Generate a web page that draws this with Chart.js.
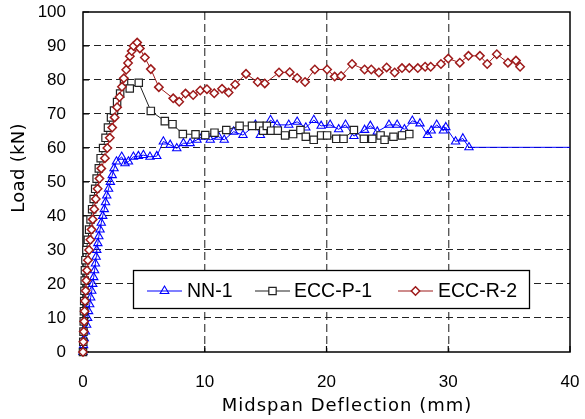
<!DOCTYPE html>
<html><head><meta charset="utf-8">
<script src="https://cdn.jsdelivr.net/npm/chart.js@4/dist/chart.umd.min.js"></script>
<style>html,body{margin:0;padding:0;background:#fff;}#wrap{width:585px;height:419px;}</style>
</head><body><div id="wrap"><canvas id="c" width="585" height="419"></canvas></div>
<script>
// ---- data ----
const seriesNames = ['NN-1', 'ECC-P-1', 'ECC-R-2'];
const xTickValues = [0, 10, 20, 30, 40];
const yTickValues = [0, 10, 20, 30, 40, 50, 60, 70, 80, 90, 100];
const xTitleText = 'Midspan Deflection (mm)';
const yTitleText = 'Load (kN)';

const nnX = [0, 0.05, 0.1, 0.2, 0.3, 0.38, 0.46, 0.55, 0.63, 0.72, 0.8, 0.88, 0.95, 1.02, 1.08, 1.13, 1.22, 1.3, 1.4, 1.5, 1.62, 1.75, 1.85, 1.95, 2.1, 2.25, 2.4, 2.55, 2.75, 3.18, 3.45, 3.73, 4.14, 4.55, 4.96, 5.5, 6.06, 6.6, 7.16, 7.7, 8.25, 8.8, 9.36, 9.77, 10.45, 11.14, 11.6, 12.37, 13.14, 14.16, 14.57, 15.4, 15.94, 16.9, 17.59, 18.3, 18.96, 19.56, 20.3, 21.0, 21.56, 22.25, 23.13, 23.6, 24.17, 25.13, 25.8, 26.4, 27.05, 27.68, 28.3, 28.6, 29.05, 29.6, 29.8, 30.6, 31.2, 31.7, 40];
const nnY = [0, 2, 4, 6, 8, 10, 12, 14, 16, 18, 20, 22, 24, 26, 28, 30, 32, 34, 36, 38, 40, 42, 44, 46, 48, 50, 52, 54, 56, 57.4, 55.5, 56, 57.4, 57.6, 57.9, 57.4, 57.6, 61.9, 60.9, 59.9, 61.4, 61.4, 62.4, 63.3, 62.4, 63.3, 62.4, 64.8, 63.8, 66.8, 63.8, 68.2, 66.8, 66.8, 67.7, 66, 68.2, 66.5, 66.8, 65.5, 66.8, 63.5, 65.3, 66.5, 64.8, 66.8, 66.8, 65.5, 68, 67.2, 63.8, 65.1, 66.8, 65.1, 66.1, 61.9, 62.8, 60.2, 60.2];

const eccPX = [0, 0.02, 0.04, 0.06, 0.08, 0.1, 0.12, 0.14, 0.16, 0.2, 0.28, 0.4, 0.5, 0.62, 0.75, 0.88, 1.0, 1.12, 1.3, 1.45, 1.65, 1.85, 2.05, 2.3, 2.55, 2.8, 3.05, 3.37, 3.84, 4.58, 5.57, 6.72, 7.35, 8.2, 9.24, 10.04, 10.8, 11.77, 12.86, 13.88, 14.5, 14.8, 15.1, 15.45, 16.0, 16.6, 17.26, 17.86, 18.3, 18.95, 19.56, 20.05, 20.8, 21.4, 22.25, 23.07, 23.76, 24.44, 24.77, 25.5, 26.2, 26.8];
const eccPY = [0, 3, 6, 9, 12, 15, 18, 21, 24, 27, 30, 33, 36, 39, 42, 45, 48, 51, 54, 57, 60, 63, 66, 69, 71, 73.5, 76, 79.5, 77.5, 79.2, 70.9, 67.9, 67, 64.1, 64, 63.8, 64.5, 65.3, 66.5, 66.5, 66.5, 65.1, 66.5, 65.1, 65.1, 63.7, 64.1, 65.3, 63.3, 62.4, 63.7, 63.7, 62.7, 62.7, 65.3, 62.7, 62.7, 63.7, 62.4, 63.3, 63.7, 64.1];

const eccRX = [0, 0.03, 0.06, 0.1, 0.13, 0.17, 0.22, 0.27, 0.33, 0.4, 0.5, 0.6, 0.7, 0.8, 0.92, 1.05, 1.2, 1.35, 1.5, 1.8, 2.0, 2.2, 2.4, 2.6, 2.8, 3.0, 3.2, 3.35, 3.55, 3.7, 3.85, 4.0, 4.15, 4.45, 4.67, 5.08, 5.57, 6.23, 7.41, 7.9, 8.42, 9.05, 9.63, 10.18, 10.78, 11.42, 11.96, 12.5, 13.39, 14.35, 14.93, 16.1, 16.98, 17.59, 18.24, 19.04, 20.05, 20.67, 21.2, 22.1, 23.13, 23.68, 24.3, 24.94, 25.6, 26.2, 26.8, 27.5, 28.1, 28.56, 29.4, 30.0, 30.95, 31.66, 32.6, 33.2, 33.99, 34.9, 35.56, 35.9];
const eccRY = [0, 3, 6, 9, 12, 15, 18, 21, 24, 27, 30, 33, 36, 39, 42, 45, 48, 51, 54, 57, 60, 63, 66, 69, 72, 75, 78, 80.5, 83, 85, 87, 88.5, 90, 91, 89.3, 86.6, 83.2, 77.9, 74.6, 73.6, 76, 75.6, 76.9, 77.3, 76.1, 77.4, 76.3, 78.7, 81.8, 79.4, 79, 82.2, 82.3, 80.6, 79.4, 83.1, 83.1, 81, 81.2, 84.7, 83.1, 83.1, 82.2, 83.7, 82.2, 83.5, 83.5, 83.5, 83.9, 83.9, 84.7, 86.3, 85.1, 87.1, 87.1, 84.7, 87.6, 85.1, 85.7, 83.9];

const pts = (xs, ys) => xs.map((x, i) => ({ x: x, y: ys[i] }));

// ---- plugins ----
const framePlugin = {
  id: 'frame',
  beforeDatasetsDraw(chart) {
    const { ctx, chartArea: a, scales: { x, y } } = chart;
    ctx.save();
    ctx.strokeStyle = '#000';
    ctx.lineWidth = 1.5;
    ctx.strokeRect(a.left, a.top, a.right - a.left, a.bottom - a.top);
    ctx.lineWidth = 1.2;
    ctx.beginPath();
    xTickValues.forEach(v => {
      const px = x.getPixelForValue(v);
      ctx.moveTo(px, a.bottom); ctx.lineTo(px, a.bottom - 6);
    });
    yTickValues.forEach(v => {
      const py = y.getPixelForValue(v);
      ctx.moveTo(a.left, py); ctx.lineTo(a.left + 6, py);
    });
    ctx.stroke();
    ctx.restore();
  }
};

function drawMarker(ctx, ds, cx, cy) {
  ctx.save();
  ctx.lineWidth = ds.pointBorderWidth;
  ctx.strokeStyle = ds.pointBorderColor;
  ctx.fillStyle = ds.pointBackgroundColor;
  const r = ds.legendRadius;
  ctx.beginPath();
  if (ds.pointStyle === 'triangle') {
    ctx.moveTo(cx, cy - r);
    ctx.lineTo(cx + r * 0.866, cy + r * 0.5);
    ctx.lineTo(cx - r * 0.866, cy + r * 0.5);
    ctx.closePath();
  } else if (ds.pointStyle === 'rect') {
    const s = r * Math.SQRT1_2;
    ctx.rect(cx - s, cy - s, 2 * s, 2 * s);
  } else {
    ctx.moveTo(cx, cy - r); ctx.lineTo(cx + r, cy); ctx.lineTo(cx, cy + r); ctx.lineTo(cx - r, cy);
    ctx.closePath();
  }
  ctx.fill();
  ctx.stroke();
  ctx.restore();
}

const legendPlugin = {
  id: 'boxLegend',
  afterDatasetsDraw(chart) {
    const ctx = chart.ctx;
    ctx.save();
    ctx.fillStyle = '#fff';
    ctx.fillRect(133, 270, 396, 38);
    ctx.strokeStyle = '#000';
    ctx.lineWidth = 1.3;
    ctx.strokeRect(133.5, 270.5, 396, 38);
    const slots = [{ lx: 147, tx: 187 }, { lx: 255, tx: 294 }, { lx: 398, tx: 438 }];
    const cy = 291;
    chart.data.datasets.forEach((ds, i) => {
      const s = slots[i];
      ctx.strokeStyle = ds.borderColor;
      ctx.lineWidth = 1.2;
      ctx.beginPath();
      ctx.moveTo(s.lx, cy); ctx.lineTo(s.lx + 35, cy);
      ctx.stroke();
      drawMarker(ctx, ds, s.lx + 17.5, cy);
      ctx.fillStyle = '#000';
      ctx.font = '19.5px "Liberation Sans", Arial, sans-serif';
      ctx.textAlign = 'left';
      ctx.textBaseline = 'middle';
      ctx.fillText(ds.label, s.tx, cy + 1);
    });
    ctx.restore();
  }
};

const titlePlugin = {
  id: 'axisTitles',
  afterDraw(chart) {
    const ctx = chart.ctx;
    ctx.save();
    ctx.fillStyle = '#000';
    ctx.textAlign = 'center';
    ctx.textBaseline = 'middle';
    ctx.font = '18px "DejaVu Sans", sans-serif';
    try { ctx.letterSpacing = '1px'; } catch (e) {}
    ctx.fillText(xTitleText, 347, 406);
    try { ctx.letterSpacing = '0.3px'; } catch (e) {}
    ctx.translate(19, 168);
    ctx.rotate(-Math.PI / 2);
    ctx.fillText(yTitleText, 0, 0);
    ctx.restore();
  }
};

// ---- chart ----
const tickFont = { family: '"Liberation Sans", Arial, sans-serif', size: 17 };

new Chart(document.getElementById('c'), {
  type: 'scatter',
  data: {
    datasets: [
      {
        label: seriesNames[0], data: pts(nnX, nnY), showLine: true, order: 3,
        borderColor: '#0000ff', borderWidth: 1, tension: 0,
        pointStyle: 'triangle',
        pointRadius: c => (c.dataIndex === nnX.length - 1 ? 0 : 4.8),
        legendRadius: 5,
        pointBorderColor: '#0000ff', pointBackgroundColor: 'rgba(255,255,255,0)', pointBorderWidth: 1.1,
        clip: false
      },
      {
        label: seriesNames[1], data: pts(eccPX, eccPY), showLine: true, order: 2,
        borderColor: '#222222', borderWidth: 1, tension: 0,
        pointStyle: 'rect', pointRadius: 5.2, legendRadius: 5.2,
        pointBorderColor: '#222222', pointBackgroundColor: '#ffffff', pointBorderWidth: 1.2,
        clip: false
      },
      {
        label: seriesNames[2], data: pts(eccRX, eccRY), showLine: true, order: 1,
        borderColor: '#9e1a1a', borderWidth: 1, tension: 0,
        pointStyle: 'rectRot', pointRadius: 4.2, legendRadius: 4.2,
        pointBorderColor: '#9e1a1a', pointBackgroundColor: '#ffffff', pointBorderWidth: 1.5,
        clip: false
      }
    ]
  },
  options: {
    responsive: false,
    animation: false,
    devicePixelRatio: 1,
    layout: { padding: { top: 12, right: 15, left: 0, bottom: 0 } },
    plugins: { legend: { display: false }, tooltip: { enabled: false } },
    elements: { point: { hoverRadius: 0 } },
    scales: {
      x: {
        type: 'linear', min: 0, max: 40,
        afterBuildTicks: s => { s.ticks = xTickValues.map(v => ({ value: v })); },
        afterFit: s => { s.height = 67; s.paddingLeft = 0; s.paddingRight = 0; },
        ticks: { font: tickFont, color: '#000', padding: 20, maxRotation: 0 },
        grid: {
          drawTicks: false, lineWidth: 1.4,
          color: c => (c.tick && (c.tick.value === 0 || c.tick.value === 40)) ? 'rgba(0,0,0,0)' : '#5a5a5a'
        },
        border: { display: false, dash: [8, 4] },
        title: { display: false }
      },
      y: {
        type: 'linear', min: 0, max: 100,
        afterBuildTicks: s => { s.ticks = yTickValues.map(v => ({ value: v })); },
        afterFit: s => { s.width = 83; s.paddingTop = 0; s.paddingBottom = 0; },
        ticks: { font: tickFont, color: '#000', padding: 17 },
        grid: {
          drawTicks: false, lineWidth: 1.1,
          color: c => (c.tick && (c.tick.value === 0 || c.tick.value === 100)) ? 'rgba(0,0,0,0)' : '#222'
        },
        border: { display: false, dash: [7, 4] },
        title: { display: false }
      }
    }
  },
  plugins: [framePlugin, legendPlugin, titlePlugin]
});
</script>
</body></html>
